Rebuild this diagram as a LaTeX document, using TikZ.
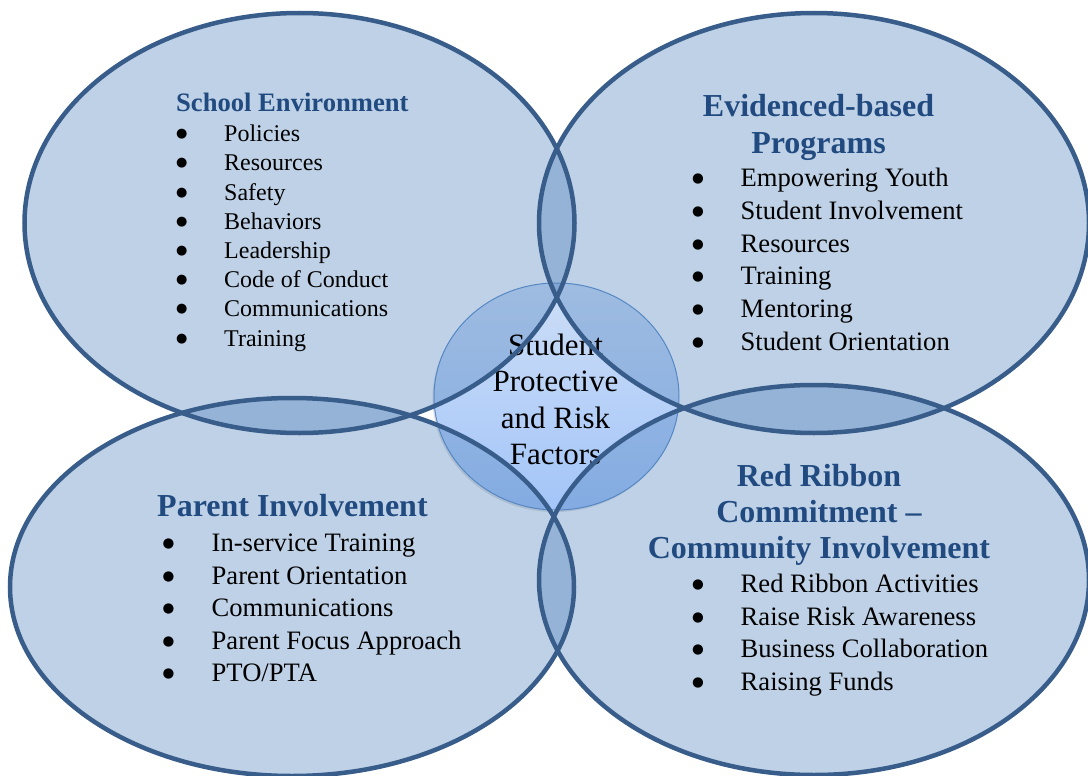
\documentclass[tikz,border=0pt]{standalone}
\usepackage{fontspec}
\setmainfont{Liberation Serif}
\newfontfamily\symfont{DejaVu Sans}
\usetikzlibrary{shapes.geometric,shadows}
\definecolor{ellfill}{RGB}{79,129,189}
\definecolor{elldraw}{RGB}{56,93,138}
\definecolor{headblue}{RGB}{33,75,128}
\definecolor{ctop}{RGB}{205,222,247}
\definecolor{cbot}{RGB}{163,197,248}
\definecolor{cline}{RGB}{90,140,200}
\begin{document}
\begin{tikzpicture}[x=1pt,y=-1pt,
  ellfillst/.style={ellipse, inner sep=0pt, outer sep=0pt, fill=ellfill, fill opacity=0.365, draw=none},
  ellline/.style={ellipse, inner sep=0pt, outer sep=0pt, draw=elldraw, line width=4.5pt, fill=none},
  sesize/.style={minimum width=550pt, minimum height=420pt},
  epsize/.style={minimum width=550pt, minimum height=420pt},
  pisize/.style={minimum width=564pt, minimum height=378pt},
  rrsize/.style={minimum width=550pt, minimum height=390pt},
  core/.style={ellipse, inner sep=0pt, minimum width=245pt, minimum height=227pt,
    top color=ctop, bottom color=cbot, draw=cline, line width=1pt,
    drop shadow={shadow xshift=-1.5pt, shadow yshift=-2pt, opacity=0.25}},
  coretext/.style={anchor=base, inner sep=0pt, font=\fontsize{31}{36}\selectfont, text=black},
  headsmall/.style={anchor=base west, inner sep=0pt, text=headblue, font=\bfseries\fontsize{26.6}{30}\selectfont},
  headbig/.style={anchor=base, inner sep=0pt, text=headblue, font=\bfseries\fontsize{32}{37}\selectfont},
  headbigw/.style={anchor=base west, inner sep=0pt, text=headblue, font=\bfseries\fontsize{32}{37}\selectfont},
  itemsmall/.style={anchor=base west, inner sep=0pt, font=\fontsize{24}{29}\selectfont},
  itembig/.style={anchor=base west, inner sep=0pt, font=\fontsize{26.6}{32}\selectfont},
  bulsmall/.style={anchor=base, inner sep=0pt, yshift=4pt, font=\symfont\fontsize{13}{15}\selectfont},
  bulbig/.style={anchor=base, inner sep=0pt, yshift=4pt, font=\symfont\fontsize{13.5}{15}\selectfont}
]
\useasboundingbox (0,0) rectangle (1088,776);
\fill[white] (0,0) rectangle (1088,776);

% central circle (beneath)
\node[core] (core) at (556.5,396.5) {};

% ellipse fills
\node[ellfillst, sesize] (se) at (299.5,223) {};
\node[ellfillst, epsize] (ep) at (814,223) {};
\node[ellfillst, pisize] (pi) at (292,587) {};
\node[ellfillst, rrsize] (rr) at (814,580) {};

% central text
\node[coretext] (ct1) at (555.5,355.2) {Student};
\node[coretext] (ct2) at (555.5,391.7) {Protective};
\node[coretext] (ct3) at (555.5,428.2) {and Risk};
\node[coretext] (ct4) at (555.5,464.7) {Factors};

% ellipse borders
\node[ellline, sesize] (seline) at (se.center) {};
\node[ellline, epsize] (epline) at (ep.center) {};
\node[ellline, pisize] (piline) at (pi.center) {};
\node[ellline, rrsize] (rrline) at (rr.center) {};

% School Environment
\node[headsmall] (seh) at (176,111.7) {School Environment};
\foreach \t [count=\i] in {Policies,Resources,Safety,Behaviors,Leadership,Code of Conduct,Communications,Training}{
  \node[bulsmall] (seb\i) at (181.8,{141.7+29.2*(\i-1)}) {●};
  \node[itemsmall] (sei\i) at (224,{141.7+29.2*(\i-1)}) {\t};
}

% Evidenced-based Programs
\node[headbig] (eph1) at (818.5,116.7) {Evidenced-based};
\node[headbig] (eph2) at (818.5,153.3) {Programs};
\foreach \t [count=\i] in {Empowering Youth,Student Involvement,Resources,Training,Mentoring,Student Orientation}{
  \node[bulbig] (epb\i) at (698,{186.7+32.7*(\i-1)}) {●};
  \node[itembig] (epi\i) at (740.5,{186.7+32.7*(\i-1)}) {\t};
}

% Parent Involvement
\node[headbigw] (pih) at (157,516.7) {Parent Involvement};
\foreach \t [count=\i] in {In-service Training,Parent Orientation,Communications,Parent Focus Approach,PTO/PTA}{
  \node[bulbig] (pib\i) at (168.5,{551.7+32.5*(\i-1)}) {●};
  \node[itembig] (pii\i) at (211.5,{551.7+32.5*(\i-1)}) {\t};
}

% Red Ribbon Commitment
\node[headbig] (rrh1) at (819,486) {Red Ribbon};
\node[headbig] (rrh2) at (819,522.3) {Commitment \textendash};
\node[headbig] (rrh3) at (819,558.7) {Community Involvement};
\foreach \t [count=\i] in {Red Ribbon Activities,Raise Risk Awareness,Business Collaboration,Raising Funds}{
  \node[bulbig] (rrb\i) at (698,{592.7+32.5*(\i-1)}) {●};
  \node[itembig] (rri\i) at (740.5,{592.7+32.5*(\i-1)}) {\t};
}
\end{tikzpicture}
\end{document}
